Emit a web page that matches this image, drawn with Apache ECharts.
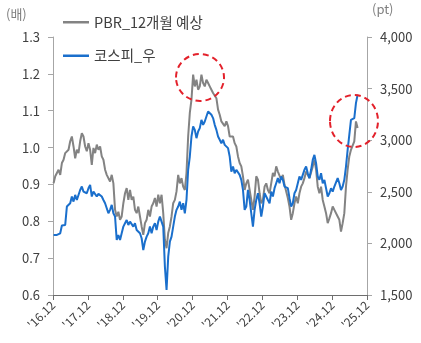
<!DOCTYPE html>
<html><head><meta charset="utf-8">
<script src="https://cdn.jsdelivr.net/npm/echarts@6/dist/echarts.min.js"></script>
<style>html,body{margin:0;padding:0;background:#fff}#c{width:421px;height:343px}</style>
</head><body><div id="c"></div>
<script>
// x tick labels (each December)
const xTickLabels = ["'16.12","'17.12","'18.12","'19.12","'20.12","'21.12","'22.12","'23.12","'24.12","'25.12"];
// sampling: months after Dec 2016 of first sample, and spacing (months)
const firstMonth = 0.2;
const stepMonth = 4 / 7;
// PBR 12-month forward (left axis, 배)
const pbrValues = [0.903,0.922,0.917,0.940,0.926,0.958,0.967,0.985,0.990,0.994,1.017,1.030,1.003,0.971,0.994,0.985,1.017,1.039,1.030,1.003,
0.990,1.012,0.994,0.953,0.999,0.985,1.008,0.994,1.003,0.976,0.967,0.940,0.926,0.931,0.908,0.926,0.903,0.831,0.813,0.826,
0.804,0.813,0.849,0.876,0.890,0.858,0.885,0.858,0.867,0.831,0.822,0.840,0.813,0.786,0.763,0.795,0.804,0.831,0.813,0.840,
0.849,0.863,0.840,0.872,0.849,0.872,0.822,0.750,0.727,0.768,0.786,0.813,0.849,0.858,0.881,0.926,0.903,0.917,0.894,0.885,
0.931,1.030,1.094,1.130,1.198,1.166,1.184,1.157,1.166,1.198,1.175,1.166,1.184,1.175,1.166,1.157,1.148,1.153,1.134,1.103,
1.089,1.071,1.076,1.058,1.071,1.058,1.030,1.026,1.030,1.012,1.003,0.976,0.958,
0.949,0.922,0.885,0.903,0.913,0.885,0.858,0.831,0.867,0.922,0.913,0.876,0.849,0.858,0.894,0.903,0.885,0.876,0.903,0.931,
0.922,0.949,0.935,0.931,0.913,0.926,0.899,0.894,0.863,0.840,0.804,0.822,0.849,0.867,0.849,0.876,0.894,0.903,0.917,0.935,
0.926,0.917,0.922,0.949,0.967,0.940,0.894,0.876,0.894,0.858,0.840,0.822,0.795,0.808,0.822,0.840,0.831,0.835,0.813,0.804,
0.772,0.795,0.822,0.894,0.940,0.976,0.994,0.999,1.017,1.071,1.053];
// KOSPI preferred (right axis, pt)
const kospiValues = [2082,2082,2082,2082,2098,2173,2173,2179,2357,2373,2389,2454,2405,2470,2421,2421,2518,2551,2502,2493,
2486,2535,2567,2454,2502,2486,2454,2480,2486,2454,2421,2389,2341,2292,2325,2373,2292,2260,2033,2082,
2033,2098,2163,2195,2227,2179,2211,2195,2163,2195,2130,2114,2098,2050,1936,2017,2066,2098,2163,2098,
2163,2195,2130,2211,2260,2244,2163,1775,1548,1872,2017,2066,2163,2260,2325,2357,2405,2325,2389,2292,
2421,2713,2842,3036,3133,3100,3020,3084,3117,3197,3149,3181,3230,3278,3295,3246,3214,3149,3100,3036,
3004,2971,3004,2955,2971,2923,2842,2696,2745,2680,2713,2696,2664,
2616,2518,2325,2357,2518,2421,2292,2163,2325,2421,2486,2389,2260,2357,2486,2470,2421,2389,2502,2454,
2535,2583,2632,2583,2648,2616,2551,2567,2535,2438,2357,2389,2486,2518,2583,2648,2616,2664,2713,2745,
2680,2632,2713,2810,2858,2777,2648,2616,2680,2583,2616,2535,2454,2486,2535,2502,2551,2535,2632,2583,
2518,2551,2616,2745,2907,3052,3197,3181,3214,3359,3440];

const pbrData = pbrValues.map((v, i) => [firstMonth + i * stepMonth, v]);
const kospiData = kospiValues.map((v, i) => [firstMonth + i * stepMonth, v]);

const FONT = '"Noto Sans CJK KR", "Noto Sans", sans-serif';
const chart = echarts.init(document.getElementById('c'), null, {renderer: 'canvas'});
chart.setOption({
  animation: false,
  backgroundColor: '#fff',
  textStyle: {fontFamily: FONT},
  grid: {left: 53, right: 54, top: 37, bottom: 48},
  legend: {
    orient: 'vertical', left: 58, top: 10, itemGap: 19,
    icon: 'rect', itemWidth: 26, itemHeight: 2.5,
    textStyle: {fontFamily: FONT, fontSize: 14.5, color: '#404040'},
    data: ['PBR_12개월 예상', '코스피_우']
  },
  xAxis: {
    type: 'value', min: 0, max: 108, interval: 12,
    axisLine: {show: true, onZero: false, lineStyle: {color: '#6e6e6e', width: 1}},
    axisTick: {show: true, length: 5, lineStyle: {color: '#6e6e6e'}},
    splitLine: {show: false},
    axisLabel: {rotate: 45, margin: 8, fontSize: 12, color: '#404040', fontFamily: FONT,
      formatter: v => xTickLabels[Math.round(v / 12)]}
  },
  yAxis: [
    {type: 'value', min: 0.6, max: 1.3, interval: 0.1,
     axisLine: {show: true, lineStyle: {color: '#a6a6a6'}},
     axisTick: {show: true, length: 5, lineStyle: {color: '#a6a6a6'}},
     splitLine: {show: false},
     axisLabel: {margin: 13, fontSize: 13, color: '#404040', fontFamily: FONT, formatter: v => v.toFixed(1)}},
    {type: 'value', min: 1500, max: 4000, interval: 500, position: 'right',
     axisLine: {show: true, lineStyle: {color: '#a6a6a6'}},
     axisTick: {show: true, length: 5, lineStyle: {color: '#a6a6a6'}},
     splitLine: {show: false},
     axisLabel: {margin: 13, fontSize: 13, color: '#404040', fontFamily: FONT,
       formatter: v => v.toLocaleString('en-US')}}
  ],
  series: [
    {name: 'PBR_12개월 예상', type: 'line', yAxisIndex: 0, data: pbrData, showSymbol: false,
     color: '#838383', lineStyle: {width: 2, color: '#838383'}},
    {name: '코스피_우', type: 'line', yAxisIndex: 1, data: kospiData, showSymbol: false,
     color: '#1a6fcc', lineStyle: {width: 2, color: '#1a6fcc'}}
  ],
  graphic: [
    {type: 'text', left: 6, top: 8, style: {text: '(배)', fontSize: 13, fill: '#7f7f7f', fontFamily: FONT}},
    {type: 'text', left: 372, top: 3, style: {text: '(pt)', fontSize: 13, fill: '#7f7f7f', fontFamily: FONT}},
    {type: 'ellipse', shape: {cx: 200, cy: 77.5, rx: 24, ry: 23.5},
     style: {fill: 'none', stroke: '#e3212b', lineWidth: 2, lineDash: [6, 4]}, z: 10},
    {type: 'ellipse', shape: {cx: 354, cy: 121, rx: 24, ry: 26},
     style: {fill: 'none', stroke: '#e3212b', lineWidth: 2, lineDash: [6, 4]}, z: 10}
  ]
});
</script></body></html>
